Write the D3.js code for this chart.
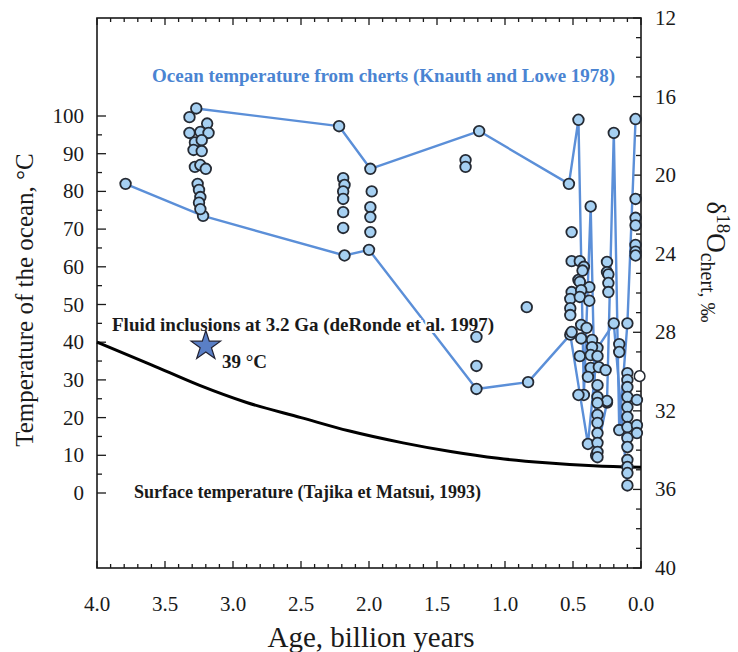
<!DOCTYPE html>
<html>
<head>
<meta charset="utf-8">
<script src="https://cdn.jsdelivr.net/npm/d3@7"></script>
<style>
  html, body { margin: 0; padding: 0; background: #fff; }
  svg { display: block; }
  text { font-family: "Liberation Serif", "Times New Roman", serif; }
</style>
</head>
<body>
<svg id="chart" width="738" height="652"></svg>
<script>
// Age axis (billion years), left temperature axis (°C), right δ18O axis (‰)
const ageTicks = [4.0, 3.5, 3.0, 2.5, 2.0, 1.5, 1.0, 0.5, 0.0];
const tempTicks = [0, 10, 20, 30, 40, 50, 60, 70, 80, 90, 100];
const deltaTicks = [12, 16, 20, 24, 28, 32, 36, 40];

// Connected chert series (age Ga, °C)
const upperLine = [[3.27, 102], [2.22, 97.3], [1.99, 86], [1.19, 96], [0.53, 82], [0.46, 99],
  [0.42, 26], [0.37, 76], [0.33, 10], [0.25, 24], [0.2, 95.5], [0.16, 16.7], [0.1, 45], [0.04, 99.2]];
const lowerLine = [[3.79, 82], [3.22, 73.5], [2.18, 63], [2.0, 64.5], [1.21, 27.6], [0.83, 29.4],
  [0.52, 42], [0.39, 13], [0.32, 38.5], [0.2, 45], [0.1, 2]];

// Individual chert measurements (age Ga, °C)
const archeanPoints = [[3.32, 99.7], [3.19, 98], [3.32, 95.5], [3.24, 95.8], [3.18, 95.5], [3.28, 93],
  [3.23, 93.6], [3.29, 91], [3.23, 90.7], [3.28, 86.5], [3.24, 87], [3.2, 86], [3.26, 82],
  [3.25, 80.4], [3.24, 78.5], [3.25, 77], [3.24, 75.3]];
const proterozoicPoints = [[2.19, 83.5], [2.18, 81.7], [2.19, 80], [2.19, 78], [2.19, 74.5], [2.19, 70.3],
  [1.98, 80], [1.99, 75.8], [1.99, 73.2], [1.99, 69.2], [1.29, 88.3], [1.29, 86.5],
  [0.84, 49.3], [1.21, 41.4], [1.21, 33.7]];
const phanerozoicPoints = [[0.51, 69.2], [0.51, 61.5], [0.45, 61.5], [0.42, 60], [0.46, 56.5],
  [0.25, 61.3], [0.25, 58.6], [0.04, 78], [0.04, 73], [0.04, 71], [0.04, 65.8], [0.04, 64], [0.04, 63],
  [0.43, 59], [0.24, 58], [0.45, 56], [0.38, 54.6], [0.24, 55.7], [0.24, 53.3], [0.51, 53.3],
  [0.44, 53.8], [0.52, 51.5], [0.45, 52], [0.38, 51], [0.52, 49], [0.52, 47.2], [0.51, 42.7],
  [0.44, 44.6], [0.4, 43.8], [0.44, 41], [0.36, 40.6], [0.36, 38.7], [0.16, 39.5],
  [0.16, 37.4], [0.45, 36.3], [0.37, 36.6], [0.32, 36.3], [0.37, 33.2], [0.31, 33.4], [0.26, 32.6],
  [0.39, 30.8], [0.1, 31.8], [0.32, 28.6], [0.1, 30], [0.1, 28.1], [0.46, 26], [0.32, 25.5],
  [0.25, 24.4], [0.1, 25.5], [0.03, 24.7], [0.32, 23.9], [0.32, 20.7], [0.1, 22.8], [0.1, 20.2],
  [0.32, 18.6], [0.1, 17.5], [0.03, 18], [0.03, 15.9], [0.32, 15.9], [0.1, 14.6],
  [0.32, 13.3], [0.1, 12.2], [0.32, 10.9], [0.32, 9.5], [0.1, 8.8], [0.1, 6.9], [0.1, 5.3]];
const openPoints = [[0.01, 31]];

// Modelled surface temperature (age Ga, °C)
const surfaceAge = [4.0, 3.6, 3.25, 2.9, 2.5, 2.15, 1.75, 1.4, 1.05, 0.7, 0.35, 0.0];
const surfaceTemp = [40, 34, 28.6, 24, 20, 16.5, 13.3, 11, 9.2, 8, 7.2, 6.8];

// Fluid inclusion estimate
const inclusionAge = 3.2;
const inclusionTemp = 39;

const svg = d3.select("#chart");
const plotL = 97, plotR = 641, plotT = 18, plotB = 568;

const x = d3.scaleLinear().domain([4, 0]).range([plotL, plotR]);
const y = d3.scaleLinear().domain([0, 100]).range([493, 116]);
const yR = d3.scaleLinear().domain([12, 40]).range([plotT, plotB]);

const blue = "#5b8fd8";
const ink = "#1a1a1a";

// Frame
svg.append("rect").attr("x", plotL).attr("y", plotT)
  .attr("width", plotR - plotL).attr("height", plotB - plotT)
  .attr("fill", "none").attr("stroke", ink).attr("stroke-width", 1.6);

// Inward ticks
const tickG = svg.append("g").attr("stroke", ink).attr("stroke-width", 1.3);
d3.range(0, 41).forEach(i => {
  const a = 4 - i * 0.1;
  const len = i % 5 === 0 ? 7 : 4;
  tickG.append("line").attr("x1", x(a)).attr("x2", x(a)).attr("y1", plotB).attr("y2", plotB - len);
  tickG.append("line").attr("x1", x(a)).attr("x2", x(a)).attr("y1", plotT).attr("y2", plotT + len);
});
d3.range(0, 101, 5).forEach(t => {
  const len = t % 10 === 0 ? 9 : 5;
  tickG.append("line").attr("x1", plotL).attr("x2", plotL + len).attr("y1", y(t)).attr("y2", y(t));
});
d3.range(12, 41).forEach(d => {
  const len = d % 4 === 0 ? 8 : 5;
  tickG.append("line").attr("x1", plotR).attr("x2", plotR - len).attr("y1", yR(d)).attr("y2", yR(d));
});

// Tick labels
svg.append("g").selectAll("text").data(ageTicks).join("text")
  .attr("x", d => x(d)).attr("y", 611).attr("text-anchor", "middle")
  .attr("font-size", 21).attr("fill", ink).text(d => d.toFixed(1));
svg.append("g").selectAll("text").data(tempTicks).join("text")
  .attr("x", 84).attr("y", d => y(d) + 7).attr("text-anchor", "end")
  .attr("font-size", 21).attr("fill", ink).text(d => d);
svg.append("g").selectAll("text").data(deltaTicks).join("text")
  .attr("x", 655).attr("y", d => yR(d) + 7).attr("text-anchor", "start")
  .attr("font-size", 21).attr("fill", ink).text(d => d);

// Axis titles
svg.append("text").attr("transform", "translate(33,300) rotate(-90)")
  .attr("text-anchor", "middle").attr("font-size", 25).attr("fill", ink)
  .text("Temperature of the ocean, °C");
svg.append("text").attr("x", 371).attr("y", 647).attr("text-anchor", "middle")
  .attr("font-size", 29).attr("fill", ink).text("Age, billion years");
const rt = svg.append("text").attr("transform", "translate(707,262) rotate(90)")
  .attr("text-anchor", "middle").attr("font-size", 27).attr("fill", ink);
rt.append("tspan").text("δ");
rt.append("tspan").attr("font-size", 19).attr("dy", -10).text("18");
rt.append("tspan").attr("dy", 10).text("O");
rt.append("tspan").attr("font-size", 20).attr("dy", 6).text("chert");
rt.append("tspan").attr("font-size", 20).text(", ‰");

// Surface temperature curve
const curve = surfaceAge.map((a, i) => [a, surfaceTemp[i]]);
svg.append("path").datum(curve)
  .attr("d", d3.line().x(d => x(d[0])).y(d => y(d[1])).curve(d3.curveMonotoneX))
  .attr("fill", "none").attr("stroke", "#000").attr("stroke-width", 3);

// Chert series lines
const line = d3.line().x(d => x(d[0])).y(d => y(d[1]));
[upperLine, lowerLine].forEach(s => {
  svg.append("path").datum(s).attr("d", line)
    .attr("fill", "none").attr("stroke", blue).attr("stroke-width", 2.4)
    .attr("stroke-linejoin", "round");
});

// Annotation labels (white halo over the lines)
function label(txt, px, py, color, size) {
  return svg.append("text").attr("x", px).attr("y", py)
    .attr("font-size", size).attr("font-weight", "bold").attr("fill", color)
    .attr("stroke", "#fff").attr("stroke-width", 4).attr("paint-order", "stroke")
    .text(txt);
}
label("Ocean temperature from cherts (Knauth and Lowe 1978)", 152, 82, "#4a84d2", 19);
label("Fluid inclusions at 3.2 Ga (deRonde et al. 1997)", 112, 331, ink, 19);
label("Surface temperature (Tajika et Matsui, 1993)", 134, 498, ink, 18);
label(inclusionTemp + " °C", 222, 368, ink, 19);

// Chert measurement points
const allPts = upperLine.concat(lowerLine, archeanPoints, proterozoicPoints, phanerozoicPoints);
svg.append("g").selectAll("circle").data(allPts).join("circle")
  .attr("cx", d => x(d[0])).attr("cy", d => y(d[1])).attr("r", 5.3)
  .attr("fill", "#a6d0f2").attr("stroke", "#252a33").attr("stroke-width", 1.8);
svg.append("g").selectAll("circle").data(openPoints).join("circle")
  .attr("cx", d => x(d[0])).attr("cy", d => y(d[1])).attr("r", 5.3)
  .attr("fill", "#fff").attr("stroke", "#252a33").attr("stroke-width", 1.5);

// Fluid inclusion star
svg.append("path")
  .attr("d", d3.symbol().type(d3.symbolStar).size(270)())
  .attr("transform", `translate(${x(inclusionAge)},${y(inclusionTemp)})`)
  .attr("fill", "#5a7fc6").attr("stroke", "#223").attr("stroke-width", 1.2);
</script>
</body>
</html>
